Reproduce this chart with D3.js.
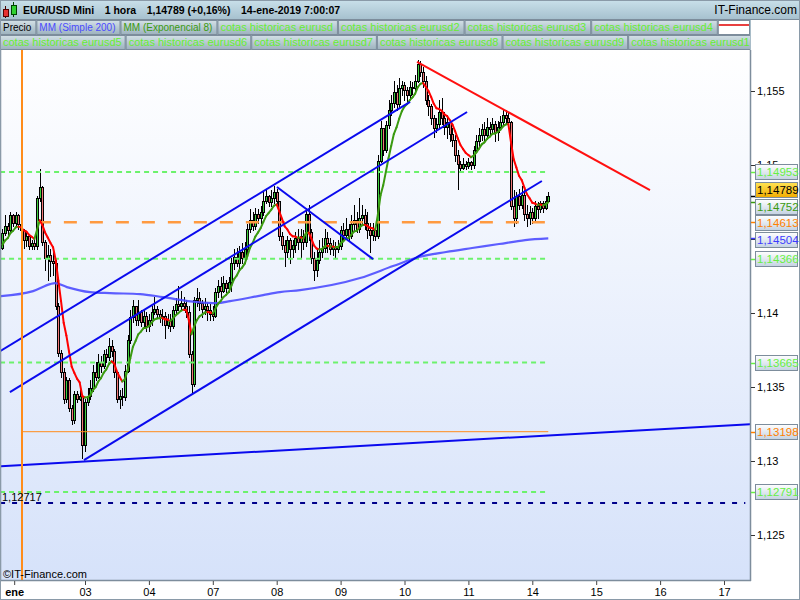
<!DOCTYPE html>
<html><head><meta charset="utf-8">
<script src="https://cdn.jsdelivr.net/npm/d3@7"></script>
<style>body{margin:0;background:#fff}svg{display:block;font-family:"Liberation Sans",Arial,sans-serif}</style>
</head><body><svg id="c" width="800" height="600"></svg>
<script>
// ---------- DATA ----------
const firstHour = -7;            // hours since 2-ene 00:00 (trading hours)
const firstOpen = 1.1444;
const closes = [
1.1454,1.1459,1.1456,1.1466,1.1461,1.1466,1.1460,
1.1456,1.1449,1.1452,1.1445,1.1447,1.1445,1.1478,1.1485,1.1448,1.1437,1.1439,1.1435,1.1434,1.1405,1.1373,1.1360,1.1342,1.1355,1.1336,1.1328,1.1345,1.1342,1.1344,1.1311,
1.1340,1.1344,1.1349,1.1360,1.1357,1.1367,1.1364,1.1372,1.1370,1.1378,1.1374,1.1360,1.1342,1.1344,1.1343,1.1361,1.1382,1.1397,1.1405,1.1395,1.1401,1.1394,1.1398,1.1391,
1.1395,1.1401,1.1403,1.1399,1.1397,1.1398,1.1392,1.1395,1.1391,1.1402,1.1406,1.1405,1.1407,1.1405,1.1401,1.1372,1.1352,1.1409,1.1410,1.1407,1.1403,1.1405,1.1402,1.1399,
1.1398,1.1414,1.1418,1.1415,1.1420,1.1417,1.1421,1.1434,1.1438,1.1434,1.1441,1.1437,1.1443,1.1457,1.1463,1.1459,1.1467,1.1464,1.1468,1.1476,1.1479,1.1475,1.1478,1.1482,
1.1476,1.1452,1.1446,1.1441,1.1449,1.1443,1.1446,1.1451,1.1448,1.1452,1.1448,1.1467,1.1455,1.1437,1.1429,1.1436,1.1441,1.1444,1.1451,1.1447,1.1443,1.1445,1.1443,1.1445,
1.1456,1.1453,1.1457,1.1452,1.1460,1.1463,1.1457,1.1464,1.1466,1.1461,1.1456,1.1453,1.1456,1.1452,1.1503,1.1525,1.1510,1.1527,1.1537,1.1542,1.1549,1.1541,1.1552,1.1554,
1.1551,1.1547,1.1553,1.1552,1.1557,1.1568,1.1563,1.1557,1.1544,1.1540,1.1532,1.1525,1.1528,1.1536,1.1532,1.1526,1.1529,1.1521,1.1517,1.1507,1.1501,1.1498,1.1501,1.1499,
1.1502,1.1500,1.1510,1.1516,1.1520,1.1524,1.1520,1.1526,1.1524,1.1528,1.1522,1.1526,1.1529,1.1534,1.1532,1.1529,1.1472,1.1464,1.1479,1.1473,1.1480,1.1467,1.1464,1.1468,
1.1464,1.1472,1.1470,1.1474,1.1471,1.1476,1.1479];
const highs = [
1.1457,1.1466,1.1461,1.1468,1.1467,1.1468,1.1467,
1.1461,1.1457,1.1454,1.1452,1.1449,1.1449,1.1479,1.1497,1.1486,1.1449,1.1446,1.1443,1.1441,1.1436,1.1407,1.1375,1.1363,1.1357,1.1356,1.1338,1.1347,1.1347,1.1348,1.1345,
1.1342,1.1349,1.1355,1.1365,1.1367,1.1372,1.1371,1.1375,1.1376,1.1383,1.1382,1.1376,1.1361,1.1348,1.1349,1.1365,1.1385,1.1402,1.1409,1.1405,1.1409,1.1402,1.1403,1.1401,
1.1399,1.1405,1.1411,1.1405,1.1402,1.1403,1.1401,1.1399,1.1399,1.1405,1.1410,1.1418,1.1415,1.1411,1.1409,1.1405,1.1374,1.1411,1.1417,1.1414,1.1409,1.1410,1.1407,1.1406,
1.1405,1.1417,1.1422,1.1424,1.1425,1.1422,1.1424,1.1437,1.1443,1.1444,1.1445,1.1447,1.1448,1.1460,1.1470,1.1468,1.1471,1.1470,1.1472,1.1482,1.1483,1.1480,1.1483,1.1486,
1.1484,1.1476,1.1455,1.1449,1.1452,1.1451,1.1449,1.1455,1.1457,1.1457,1.1456,1.1471,1.1473,1.1457,1.1441,1.1443,1.1449,1.1451,1.1457,1.1455,1.1451,1.1449,1.1448,1.1449,
1.1459,1.1461,1.1464,1.1460,1.1466,1.1473,1.1468,1.1478,1.1473,1.1470,1.1468,1.1461,1.1461,1.1459,1.1507,1.1530,1.1524,1.1530,1.1544,1.1547,1.1557,1.1554,1.1559,1.1557,
1.1556,1.1553,1.1557,1.1556,1.1561,1.1571,1.1570,1.1566,1.1560,1.1547,1.1541,1.1534,1.1532,1.1544,1.1545,1.1536,1.1534,1.1530,1.1525,1.1520,1.1510,1.1503,1.1505,1.1503,
1.1505,1.1503,1.1513,1.1520,1.1525,1.1528,1.1529,1.1532,1.1529,1.1532,1.1530,1.1530,1.1533,1.1537,1.1537,1.1536,1.1530,1.1483,1.1482,1.1484,1.1486,1.1483,1.1473,1.1472,
1.1471,1.1476,1.1475,1.1476,1.1476,1.1479,1.1482];
const lows = [
1.1443,1.1453,1.1453,1.1455,1.1459,1.1459,1.1457,
1.1454,1.1444,1.1445,1.1443,1.1443,1.1443,1.1443,1.1476,1.1446,1.1429,1.1422,1.1425,1.1426,1.1403,1.1371,1.1357,1.1339,1.1340,1.1334,1.1325,1.1326,1.1340,1.1341,1.1302,
1.1307,1.1338,1.1342,1.1347,1.1355,1.1356,1.1360,1.1363,1.1367,1.1368,1.1371,1.1357,1.1340,1.1336,1.1338,1.1341,1.1360,1.1380,1.1394,1.1392,1.1392,1.1391,1.1390,1.1388,
1.1388,1.1392,1.1399,1.1397,1.1394,1.1392,1.1383,1.1390,1.1388,1.1390,1.1399,1.1402,1.1403,1.1402,1.1397,1.1370,1.1345,1.1351,1.1405,1.1402,1.1397,1.1399,1.1395,1.1395,
1.1395,1.1397,1.1411,1.1411,1.1414,1.1414,1.1414,1.1415,1.1430,1.1432,1.1430,1.1434,1.1434,1.1440,1.1455,1.1456,1.1457,1.1461,1.1461,1.1466,1.1474,1.1472,1.1472,1.1474,
1.1473,1.1449,1.1443,1.1432,1.1438,1.1434,1.1438,1.1441,1.1443,1.1437,1.1443,1.1445,1.1449,1.1434,1.1422,1.1425,1.1434,1.1438,1.1441,1.1441,1.1440,1.1439,1.1438,1.1441,
1.1443,1.1449,1.1451,1.1449,1.1451,1.1456,1.1455,1.1455,1.1460,1.1457,1.1451,1.1441,1.1449,1.1449,1.1451,1.1502,1.1507,1.1509,1.1525,1.1534,1.1539,1.1537,1.1539,1.1547,
1.1544,1.1541,1.1545,1.1548,1.1549,1.1556,1.1560,1.1553,1.1541,1.1534,1.1528,1.1519,1.1522,1.1525,1.1528,1.1521,1.1518,1.1516,1.1513,1.1503,1.1484,1.1495,1.1497,1.1497,
1.1498,1.1497,1.1498,1.1509,1.1513,1.1517,1.1517,1.1518,1.1520,1.1521,1.1516,1.1517,1.1524,1.1528,1.1528,1.1525,1.1470,1.1459,1.1461,1.1470,1.1471,1.1463,1.1459,1.1460,
1.1461,1.1463,1.1464,1.1468,1.1468,1.1470,1.1475];

// MM (Simple 200): hours and values
const smaHours  = [-7.9,4.5,10.9,12.7,17.2,25.9,33.4,44.7,53.3,66.1,73.6,78.5,90.9,97.2,104.8,127.3,139.7,149.4,159.6,169.4,179.5,189.3,198];
const smaValues = [1.14114,1.14148,1.14195,1.14202,1.14175,1.14141,1.14134,1.14128,1.14107,1.14074,1.14067,1.14080,1.14121,1.14141,1.14155,1.14236,1.14317,1.14378,1.14412,1.14439,1.14466,1.14493,1.14504];

// trend lines: [hour, price] pairs
const blueLines = [
  [[-7.9,1.12965],[273.8,1.13249]],
  [[-7.9,1.13742],[146.1,1.15426]],
  [[-4.2,1.13465],[167.5,1.15358]],
  [[23.6,1.13006],[195.6,1.14892]],
  [[96.1,1.14851],[132.2,1.14364]]
];
const redLine = [[148.7,1.15696],[236.2,1.14831]];

// horizontal levels
const greenLevels = [1.14953,1.14366,1.13665,1.12791];
const greenLevelSpan = [-7.9,197.5];
const orangeDashLevel = 1.14613, orangeDashSpan = [6.3,197.5];
const orangeSolidLevel = 1.13198, orangeSolidSpan = [0.3,198];
const navyLevel = 1.12717, navySpan = [-7.9,272];
const verticalHour = 0.3;

// right-axis value markers
const markerValues = [1.14953,1.14789,1.14752,1.14613,1.14504,1.14366,1.13665,1.13198,1.12791];
const markerColors = ["#66f044","#000000","#3a9a10","#ff8000","#3c3cff","#66f044","#66f044","#ff8000","#66f044"];
const currentPrice = 1.14789;

const yTicks = [1.125,1.13,1.135,1.14,1.145,1.15,1.155];
const yTickLabels = ["1,125","1,13","1,135","1,14","1,145","1,15","1,155"];
const xTickHours = [-2.6,24,48,72,96,120,144,168,192,216,240,264];
const xTickLabels = ["ene","03","04","07","08","09","10","11","14","15","16","17"];

const headerItems = ["EUR/USD Mini","1 hora","1,14789 (+0,16%)","14-ene-2019 7:00:07"];
const legendRow1 = [["Precio","#000000",10],["MM (Simple 200)","#4a4aff",10],["MM (Exponencial 8)","#3a9a10",10],["cotas historicas eurusd","#66ee33",11],["cotas historicas eurusd2","#66ee33",11],["cotas historicas eurusd3","#66ee33",11],["cotas historicas eurusd4","#66ee33",11]];
const legendRow2 = [["cotas historicas eurusd5","#66ee33",11],["cotas historicas eurusd6","#66ee33",11],["cotas historicas eurusd7","#66ee33",11],["cotas historicas eurusd8","#66ee33",11],["cotas historicas eurusd9","#66ee33",11],["cotas historicas eurusd10","#66ee33",11]];

// ---------- LAYOUT ----------
const L = 1, R = 750, T = 50, B = 580;
const svg = d3.select("#c");
const defs = svg.append("defs");
function vgrad(id, stops){ const g = defs.append("linearGradient").attr("id",id).attr("x1",0).attr("y1",0).attr("x2",0).attr("y2",1);
  stops.forEach(s=>g.append("stop").attr("offset",s[0]).attr("stop-color",s[1])); }
vgrad("bg",[[0,"#ffffff"],[1,"#d6e2fa"]]);
vgrad("hdr",[[0,"#c9e0ea"],[1,"#a7c1cf"]]);
vgrad("cell",[[0,"#d3e0e6"],[1,"#9db2be"]]);
vgrad("box",[[0,"#ffffff"],[1,"#c4d2e2"]]);
vgrad("gold",[[0,"#ffe455"],[1,"#f2ac00"]]);
defs.append("clipPath").attr("id","pc").append("rect").attr("x",L).attr("y",T).attr("width",R-L).attr("height",B-T);

svg.append("rect").attr("width",800).attr("height",600).attr("fill","#fff");
svg.append("rect").attr("x",L).attr("y",T).attr("width",R-L).attr("height",B-T).attr("fill","url(#bg)");

const x = d3.scaleLinear().domain([0,264]).range([21.1,724]);
const y = d3.scaleLinear().domain([1.125,1.155]).range([535,91]);

const plot = svg.append("g").attr("clip-path","url(#pc)");

// candles
const candles = closes.map((c,i)=>({h:firstHour+i, o: i===0?firstOpen:closes[i-1], c, hi:highs[i], lo:lows[i]}));
const cg = plot.append("g");
candles.forEach(d=>{
  const cx = Math.round(x(d.h));
  const top = Math.max(d.o,d.c), bot = Math.min(d.o,d.c);
  cg.append("line").attr("x1",cx+0.5).attr("x2",cx+0.5)
    .attr("y1",Math.round(y(Math.max(d.hi,top)))).attr("y2",Math.round(y(Math.min(d.lo,bot)))+1)
    .attr("stroke","#000").attr("stroke-width",1);
  const yt = Math.round(y(top)), yb = Math.round(y(bot));
  cg.append("rect").attr("x",cx-0.5).attr("y",yt+0.5).attr("width",2).attr("height",Math.max(0,yb-yt))
    .attr("fill", d.c>=d.o ? "#3fcf3f" : "#f07878").attr("stroke","#000").attr("stroke-width",1);
});

// levels
function hline(p, span, color, w, dash){
  plot.append("line").attr("x1",x(span[0])).attr("x2",x(span[1])).attr("y1",y(p)).attr("y2",y(p))
    .attr("stroke",color).attr("stroke-width",w).attr("stroke-dasharray",dash||null);
}
greenLevels.forEach(p=>hline(p,greenLevelSpan,"#6cf26c",2,"5,4"));
hline(orangeDashLevel,orangeDashSpan,"#ff9a40",2.5,"13,13");
hline(orangeSolidLevel,orangeSolidSpan,"#ff8c1a",1);
hline(navyLevel,navySpan,"#00008b",2,"5,7");

// SMA 200
plot.append("path").datum(smaHours.map((h,i)=>[h,smaValues[i]]))
  .attr("d",d3.line().x(d=>x(d[0])).y(d=>y(d[1])).curve(d3.curveMonotoneX))
  .attr("fill","none").attr("stroke","#4d4dff").attr("stroke-width",2.2).attr("stroke-opacity",0.9);

// EMA 8 computed from closes
const k = 2/9; const ema = [];
closes.forEach((c,i)=>ema.push(i===0? firstOpen + (c-firstOpen)*k : ema[i-1] + (c-ema[i-1])*k));
for(let i=1;i<ema.length;i++){
  plot.append("line").attr("x1",x(firstHour+i-1)).attr("y1",y(ema[i-1])).attr("x2",x(firstHour+i)).attr("y2",y(ema[i]))
    .attr("stroke", ema[i]>=ema[i-1] ? "#3a9a10" : "#ff0000").attr("stroke-width",2).attr("stroke-linecap","round");
}

// trend lines
blueLines.forEach(l=>plot.append("line").attr("x1",x(l[0][0])).attr("y1",y(l[0][1])).attr("x2",x(l[1][0])).attr("y2",y(l[1][1]))
  .attr("stroke","#0a0aee").attr("stroke-width",2));
plot.append("line").attr("x1",x(redLine[0][0])).attr("y1",y(redLine[0][1])).attr("x2",x(redLine[1][0])).attr("y2",y(redLine[1][1]))
  .attr("stroke","#ff1010").attr("stroke-width",2);

// vertical orange line
svg.append("line").attr("x1",Math.round(x(verticalHour))).attr("x2",Math.round(x(verticalHour))).attr("y1",T).attr("y2",B)
  .attr("stroke","#ff8c1a").attr("stroke-width",2);

// texts inside plot
svg.append("text").attr("x",2).attr("y",y(navyLevel)-2).attr("font-size",11).attr("fill","#000").text(d3.format(".5f")(navyLevel).replace(".",","));
svg.append("text").attr("x",3).attr("y",578).attr("font-size",11).attr("fill","#000").text("©IT-Finance.com");

// frame of plot
svg.append("line").attr("x1",0.5).attr("x2",0.5).attr("y1",T).attr("y2",B).attr("stroke","#7d8d9c").attr("stroke-width",1.5);
svg.append("line").attr("x1",0).attr("x2",R+1).attr("y1",B+0.5).attr("y2",B+0.5).attr("stroke","#7d8d9c").attr("stroke-width",1.5);
svg.append("line").attr("x1",R+0.5).attr("x2",R+0.5).attr("y1",T).attr("y2",B+1).attr("stroke","#7d8d9c").attr("stroke-width",1.5);

// value markers positions (decluttered)
function declutter(ys,gap){ const p=ys.slice(); for(let it=0;it<200;it++){ let moved=false;
  const idx=d3.range(p.length).sort((a,b)=>p[a]-p[b]);
  for(let j=1;j<idx.length;j++){ const a=idx[j-1],b=idx[j]; const d=p[b]-p[a]; if(d<gap-0.01){const s=(gap-d)/2; p[a]-=s; p[b]+=s; moved=true;} }
  if(!moved)break;} return p; }
const my = declutter(markerValues.map(v=>y(v)),16.6);
const boxTop = my.map(cy=>Math.round(cy-7.5)+0.5);

// right axis ticks (labels fully hidden under a marker box are not drawn)
const ra = svg.append("g");
yTicks.forEach((v,i)=>{
  const ty = y(v);
  ra.append("line").attr("x1",R+1).attr("x2",R+5).attr("y1",Math.round(ty)+0.5).attr("y2",Math.round(ty)+0.5).attr("stroke","#333");
  const hidden = boxTop.some(bt=>ty-4>=bt && ty+4<=bt+15);
  if(!hidden) ra.append("text").attr("x",R+7).attr("y",ty).attr("dy","0.35em").attr("font-size",11).attr("fill","#000").text(yTickLabels[i]);
});

markerValues.forEach((v,i)=>{
  const yy = Math.round(y(v))+0.5;
  ra.append("line").attr("x1",R+1).attr("x2",R+6).attr("y1",yy).attr("y2",yy).attr("stroke",markerColors[i]).attr("stroke-width",1.5);
  const isCur = v===currentPrice;
  ra.append("rect").attr("x",R+5.5).attr("y",boxTop[i]).attr("width",42).attr("height",15)
    .attr("fill",isCur?"url(#gold)":"url(#box)").attr("stroke","#7d8d9c").attr("stroke-width",1);
  ra.append("text").attr("x",R+7).attr("y",boxTop[i]+11.5).attr("font-size",11.5).attr("fill",markerColors[i])
    .text(d3.format(".5f")(v).replace(".",","));
});

// bottom axis
const xa = svg.append("g").attr("transform",`translate(0,${B+1})`)
  .call(d3.axisBottom(x).tickValues(xTickHours).tickFormat((d,i)=>xTickLabels[i]).tickSize(4).tickPadding(3));
xa.select(".domain").remove();
xa.selectAll("line").attr("stroke","#444");
xa.selectAll("text").attr("font-size",11).attr("font-family","Liberation Sans, Arial, sans-serif").attr("fill","#000")
  .attr("font-weight",(d,i)=>i===0?"bold":"normal");

// header
svg.append("rect").attr("x",0).attr("y",0).attr("width",800).attr("height",19).attr("fill","url(#hdr)");
svg.append("line").attr("x1",0).attr("x2",800).attr("y1",19.5).attr("y2",19.5).attr("stroke","#7d8d9c");
svg.append("line").attr("x1",5.5).attr("x2",5.5).attr("y1",6).attr("y2",18).attr("stroke","#400");
svg.append("rect").attr("x",3.5).attr("y",9.5).attr("width",5).attr("height",7).attr("fill","#e83030").attr("stroke","#500");
svg.append("line").attr("x1",13.5).attr("x2",13.5).attr("y1",2).attr("y2",17).attr("stroke","#040");
svg.append("rect").attr("x",11.5).attr("y",5.5).attr("width",5).attr("height",9).attr("fill","#30d030").attr("stroke","#040");
let hx = 23;
headerItems.forEach(t=>{
  const tx = svg.append("text").attr("x",hx).attr("y",14).attr("font-size",10.5).attr("font-weight","bold").attr("fill","#000").text(t);
  hx += tx.node().getComputedTextLength() + 10.5;
});
svg.append("text").attr("x",797).attr("y",14).attr("text-anchor","end").attr("font-size",12).attr("fill","#000").text("IT-Finance.com");

// legend rows
function legendRow(items, y0, extra, pad){
  let cx = 0;
  const g = svg.append("g");
  items.forEach(it=>{
    const t = g.append("text").attr("x",cx+3).attr("y",y0+11).attr("font-size",it[2]).attr("fill",it[1]).text(it[0]);
    const w = t.node().getComputedTextLength()+pad;
    g.insert("rect","text").attr("x",cx+0.5).attr("y",y0+0.5).attr("width",Math.min(w,R-cx)).attr("height",14).attr("fill","url(#cell)").attr("stroke","#7d8d9c");
    cx += w + 1;
  });
  if(extra){
    g.append("rect").attr("x",cx+0.5).attr("y",y0+0.5).attr("width",R-cx-1).attr("height",14).attr("fill","#fff").attr("stroke","#7d8d9c");
    g.append("line").attr("x1",cx+1).attr("x2",R-1).attr("y1",y0+5).attr("y2",y0+5).attr("stroke","#e00000").attr("stroke-width",1.5);
  }
  return g;
}
svg.append("rect").attr("x",0).attr("y",20).attr("width",R+1).attr("height",30).attr("fill","#a8bcc8");
legendRow(legendRow1,20,true,7);
const r2 = legendRow(legendRow2,35,false,6);
defs.append("clipPath").attr("id","lc").append("rect").attr("x",0).attr("y",0).attr("width",R).attr("height",600);
r2.attr("clip-path","url(#lc)");

// outer frame
svg.append("rect").attr("x",0.5).attr("y",0.5).attr("width",799).attr("height",599).attr("fill","none").attr("stroke","#8a9aa8");
</script></body></html>
